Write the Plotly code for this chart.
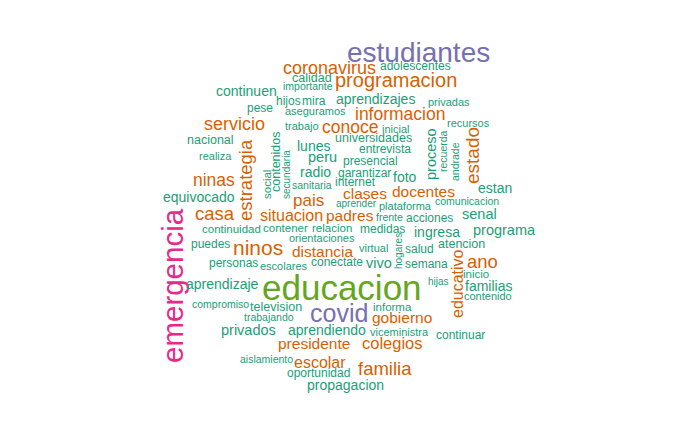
import plotly.graph_objects as go

# palabras de la nube, con frecuencia estimada y posicion (px)
words = ["estudiantes", "coronavirus", "adolescentes", "calidad", "programacion",
         "importante", "continuen", "hijos", "mira", "aprendizajes", "privadas",
         "pese", "aseguramos", "informacion", "servicio", "trabajo", "conoce",
         "inicial", "recursos", "nacional", "universidades", "lunes", "entrevista",
         "proceso", "recuerda", "andrade", "estado", "realiza", "contenidos", "peru",
         "presencial", "social", "secundaria", "radio", "garantizar", "ninas",
         "sanitaria", "internet", "foto", "estrategia", "estan", "clases", "docentes",
         "equivocado", "pais", "aprender", "plataforma", "comunicacion", "casa",
         "padres", "frente", "acciones", "senal", "situacion", "continuidad",
         "contener", "relacion", "medidas", "ingresa", "programa", "emergencia",
         "puedes", "ninos", "orientaciones", "virtual", "hogares", "salud", "atencion",
         "distancia", "personas", "escolares", "conectate", "vivo", "semana", "ano",
         "educativo", "inicio", "aprendizaje", "educacion", "hijas", "familias",
         "compromiso", "television", "informa", "contenido", "covid", "trabajando",
         "gobierno", "privados", "aprendiendo", "viceministra", "continuar",
         "presidente", "colegios", "aislamiento", "escolar", "oportunidad",
         "familia", "propagacion"]

freq = [38, 18, 6, 7, 22,
        3, 10, 6, 6, 10, 4,
        6, 4, 17, 18, 4, 17,
        4, 4, 7, 7, 10, 6,
        11, 3, 3, 20, 4, 7, 11,
        6, 5, 2, 10, 6, 17,
        3, 6, 10, 19, 10, 13, 13,
        10, 16, 2, 4, 3, 19,
        13, 3, 6, 11, 14, 5,
        5, 5, 6, 10, 11, 41,
        6, 24, 4, 4, 2, 6, 7,
        13, 6, 4, 6, 11, 6, 19,
        14, 5, 10, 52, 2, 10,
        3, 7, 5, 4, 32, 3,
        13, 11, 10, 4, 6,
        13, 15, 3, 14, 6,
        19, 10]

x_pos = [418, 329, 415, 312, 396,
         308, 246, 288, 314, 375, 449,
         260, 315, 400, 234, 302, 350,
         396, 468, 210, 373, 313, 385,
         431, 443, 455, 472, 215, 276, 322,
         370, 267, 286, 315, 364, 214,
         312, 355, 405, 245, 495, 365, 423,
         199, 308, 356, 405, 467, 215,
         350, 389, 429, 479, 291, 231,
         285, 332, 382, 437, 504, 172,
         210, 258, 322, 373, 398, 419, 461,
         323, 233, 284, 337, 379, 426, 482,
         457, 476, 222, 342, 438, 488,
         220, 276, 392, 488, 339, 269,
         402, 248, 327, 399, 460,
         314, 392, 266, 320, 318,
         385, 345]

y_pos = [52, 68, 66, 78, 80,
         86, 91, 101, 101, 99, 102,
         108, 111, 114, 124, 126, 127,
         129, 123, 140, 138, 146, 149,
         154, 151, 162, 156, 156, 162, 157,
         161, 185, 175, 172, 173, 180,
         185, 182, 177, 180, 188, 193, 191,
         197, 200, 203, 206, 201, 213,
         215, 217, 218, 214, 215, 229,
         228, 228, 229, 232, 230, 286,
         244, 247, 238, 248, 251, 249, 244,
         251, 263, 266, 262, 263, 264, 261,
         284, 274, 284, 287, 281, 286,
         304, 307, 307, 296, 313, 317,
         317, 330, 330, 332, 335,
         343, 343, 359, 362, 373,
         368, 385]

vertical = {"proceso", "recuerda", "andrade", "estado", "contenidos", "social",
            "secundaria", "estrategia", "emergencia", "hogares", "educativo"}

# paleta Dark2, por tramos de frecuencia
def word_color(f):
    if f <= 12:
        return "#1B9E77"
    if f <= 26:
        return "#D95F02"
    if f <= 39:
        return "#7570B3"
    if f <= 48:
        return "#E7298A"
    return "#66A61E"

fig = go.Figure()
# traza vacia para fijar los ejes
fig.add_trace(go.Scatter(x=[], y=[], mode="markers", showlegend=False))

for w, f, x, y in zip(words, freq, x_pos, y_pos):
    size = 9 + f / 2
    fig.add_annotation(
        x=x, y=y, xref="x", yref="y", text=w, showarrow=False,
        textangle=-90 if w in vertical else 0,
        xanchor="center", yanchor="middle",
        font=dict(family="Liberation Sans", size=size, color=word_color(f)),
    )

fig.update_layout(
    width=700, height=432,
    margin=dict(l=0, r=0, t=0, b=0),
    paper_bgcolor="white", plot_bgcolor="white",
    showlegend=False,
)
# la pagina deja 8 px de margen, se compensa en el rango
fig.update_xaxes(range=[8, 708], visible=False, fixedrange=True)
fig.update_yaxes(range=[440, 8], visible=False, fixedrange=True)

fig.write_html("out.html")
